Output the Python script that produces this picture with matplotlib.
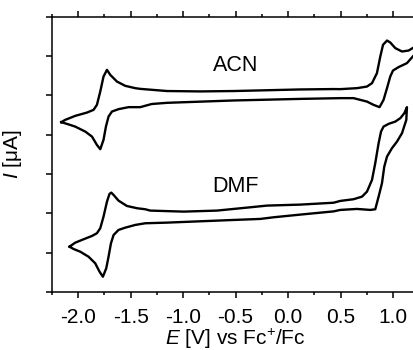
import numpy as np
import matplotlib
matplotlib.use('Agg')
import matplotlib.pyplot as plt
from matplotlib.ticker import MultipleLocator

plt.rcParams['font.family'] = ['Liberation Sans', 'DejaVu Sans']
plt.rcParams['mathtext.fontset'] = 'custom'
plt.rcParams['mathtext.rm'] = 'Liberation Sans'
plt.rcParams['mathtext.it'] = 'Liberation Sans:italic'
plt.rcParams['axes.unicode_minus'] = False

# ACN voltammogram: upper branch left -> right, then lower branch right -> left
acn_up_e = [-2.162, -2.124, -2.029, -1.917, -1.854, -1.822, -1.790, -1.759, -1.726,
            -1.695, -1.631, -1.552, -1.457, -1.409, -1.155, -0.837, -0.519, -0.201,
            0.116, 0.434, 0.498, 0.657, 0.752, 0.800, 0.847, 0.879, 0.905, 0.943,
            0.974, 1.022, 1.086, 1.149, 1.203, 1.23]
acn_up_i = [4.318, 4.377, 4.478, 4.562, 4.631, 4.758, 5.097, 5.478, 5.649,
            5.522, 5.351, 5.242, 5.183, 5.165, 5.11, 5.10, 5.11, 5.13,
            5.15, 5.16, 5.158, 5.183, 5.224, 5.310, 5.565, 5.987, 6.285, 6.394,
            6.344, 6.201, 6.115, 6.140, 6.226, 6.20]
acn_down_e = [1.203, 1.133, 1.053, 1.000, 0.974, 0.943, 0.910, 0.872, 0.815, 0.752,
              0.624, 0.498, 0.116, -0.201, -0.519, -0.837, -1.155, -1.30, -1.409,
              -1.520, -1.616, -1.679, -1.711, -1.736, -1.759, -1.790, -1.822, -1.869,
              -1.933, -2.029, -2.108, -2.162]
acn_down_i = [6.031, 5.819, 5.718, 5.631, 5.478, 5.183, 4.885, 4.700, 4.758, 4.842,
              4.929, 4.929, 4.91, 4.89, 4.87, 4.84, 4.81, 4.78, 4.700,
              4.700, 4.649, 4.588, 4.461, 4.206, 3.868, 3.631, 3.740, 3.952,
              4.079, 4.206, 4.275, 4.318]

# DMF voltammogram
dmf_up_e = [-2.083, -2.029, -1.949, -1.869, -1.822, -1.790, -1.759, -1.726, -1.702,
            -1.685, -1.663, -1.616, -1.536, -1.440, -1.361, -1.314, -0.996, -0.678,
            -0.360, -0.201, 0.116, 0.434, 0.498, 0.624, 0.705, 0.752, 0.800, 0.831,
            0.863, 0.886, 0.910, 0.958, 1.022, 1.070, 1.108, 1.133]
dmf_up_i = [1.153, 1.254, 1.341, 1.425, 1.494, 1.621, 1.916, 2.298, 2.494,
            2.527, 2.468, 2.323, 2.188, 2.130, 2.104, 2.07, 2.044, 2.07,
            2.154, 2.197, 2.222, 2.27, 2.316, 2.359, 2.425, 2.552, 2.850, 3.275,
            3.784, 4.079, 4.206, 4.275, 4.333, 4.420, 4.547, 4.700]
dmf_down_e = [1.127, 1.086, 1.038, 0.990, 0.943, 0.917, 0.895, 0.863, 0.831, 0.784,
              0.657, 0.498, 0.434, 0.116, -0.138, -0.265, -0.519, -0.837, -1.155,
              -1.361, -1.457, -1.552, -1.616, -1.663, -1.688, -1.711, -1.733, -1.765,
              -1.797, -1.838, -1.902, -1.981, -2.045, -2.083]
dmf_down_i = [4.377, 4.038, 3.824, 3.656, 3.443, 3.188, 2.766, 2.425, 2.104, 2.087,
              2.112, 2.087, 2.05, 1.968, 1.90, 1.858, 1.832, 1.798, 1.764,
              1.748, 1.705, 1.636, 1.578, 1.450, 1.239, 0.898, 0.603, 0.389,
              0.517, 0.730, 0.898, 1.025, 1.094, 1.153]

x_ticks = [-2.0, -1.5, -1.0, -0.5, 0.0, 0.5, 1.0]
y_ticks = [0, 1, 2, 3, 4, 5, 6, 7]

fig = plt.figure(figsize=(4.14, 3.5), dpi=100)
ax = fig.add_axes([0.1256, 0.1657, 0.887, 0.7866])

ax.plot(acn_up_e + acn_down_e, acn_up_i + acn_down_i, color='black', lw=1.7,
        solid_joinstyle='round')
ax.plot(dmf_up_e + dmf_down_e, dmf_up_i + dmf_down_i, color='black', lw=1.7,
        solid_joinstyle='round')

ax.text(-0.497, 5.61, 'ACN', ha='center', va='baseline', fontsize=15.5)
ax.text(-0.497, 2.55, 'DMF', ha='center', va='baseline', fontsize=15.5)

ax.set_xlim(-2.25, 1.25)
ax.set_ylim(0, 7)
ax.set_xticks(x_ticks)
ax.set_xticklabels(['%.1f' % v for v in x_ticks])
ax.xaxis.set_minor_locator(MultipleLocator(0.25))
ax.set_yticks(y_ticks)
ax.set_yticklabels([])

for s in ax.spines.values():
    s.set_linewidth(1.1)
ax.tick_params(which='both', direction='out', top=True, right=False, width=1.1,
               labelsize=15)
ax.tick_params(which='major', length=4.3, pad=7)
ax.tick_params(which='minor', length=2.5)

# the reference crops this label at the bottom edge; keep it just inside
ax.set_xlabel('$E$ [V] vs Fc$^{+}$/Fc', fontsize=15, labelpad=0.5)
ax.set_ylabel('$I$ [μA]', fontsize=15, labelpad=9)

fig.savefig('out.png', dpi=100)
